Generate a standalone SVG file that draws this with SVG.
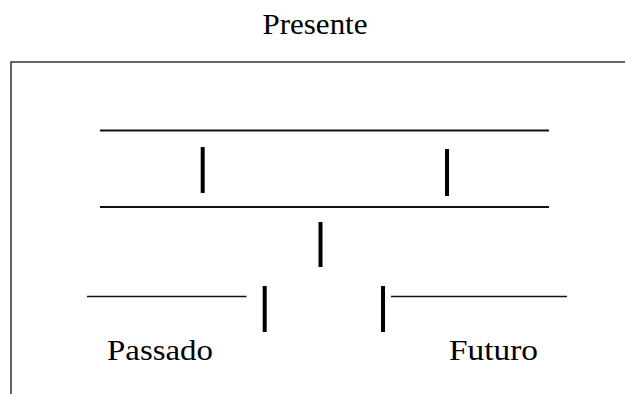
<svg xmlns="http://www.w3.org/2000/svg" width="625" height="394" viewBox="0 0 625 394">
  <style>
    .label { font-family: 'Liberation Serif', 'Times New Roman', serif; font-size: 30px; fill: #000; }
    .frame { stroke: #333; stroke-width: 1.5; fill: none; }
    .rule { stroke: #111; stroke-width: 1.8; }
    .rule-thin { stroke: #111; stroke-width: 1.3; }
    .bar { stroke: #000; stroke-width: 4; }
  </style>
  <rect width="625" height="394" fill="#fff"/>

  <g id="title">
    <text class="label" x="262.5" y="34" textLength="105" lengthAdjust="spacingAndGlyphs">Presente</text>
  </g>

  <g id="frame">
    <polyline class="frame" points="11,394 11,62 625,62"/>
  </g>

  <g id="present-band">
    <line class="rule" x1="100" y1="130.5" x2="549" y2="130.5"/>
    <line class="rule" x1="100" y1="207" x2="549" y2="207"/>
  </g>

  <g id="connectors">
    <line class="bar" x1="202.7" y1="147" x2="202.7" y2="193"/>
    <line class="bar" x1="447" y1="149" x2="447" y2="196"/>
    <line class="bar" x1="320.5" y1="222" x2="320.5" y2="267"/>
    <line class="bar" x1="264.7" y1="286" x2="264.7" y2="332"/>
    <line class="bar" x1="383" y1="286" x2="383" y2="332"/>
  </g>

  <g id="past">
    <line class="rule-thin" x1="87" y1="296.5" x2="246.5" y2="296.5"/>
    <text class="label" x="107" y="360" textLength="106" lengthAdjust="spacingAndGlyphs">Passado</text>
  </g>

  <g id="future">
    <line class="rule-thin" x1="391" y1="296.5" x2="567" y2="296.5"/>
    <text class="label" x="449" y="360" textLength="89" lengthAdjust="spacingAndGlyphs">Futuro</text>
  </g>
</svg>
